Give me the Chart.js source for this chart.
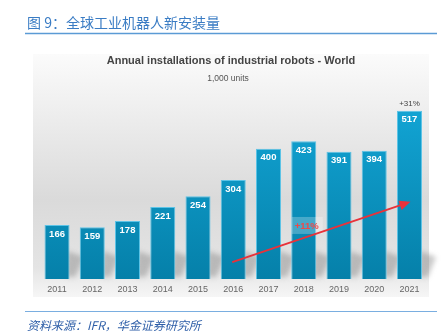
<!DOCTYPE html>
<html>
<head>
<meta charset="utf-8">
<script src="https://cdn.jsdelivr.net/npm/chart.js@4"></script>
<style>
  html, body { margin: 0; padding: 0; background: #fff; }
  #wrap { width: 441px; height: 336px; position: relative; }
</style>
</head>
<body>
<div id="wrap"><canvas id="robotChart" width="441" height="336"></canvas></div>
<script>
// 全球工业机器人年度新安装量（千台）
const years = ['2011', '2012', '2013', '2014', '2015', '2016', '2017', '2018', '2019', '2020', '2021'];
const installs = [166, 159, 178, 221, 254, 304, 400, 423, 391, 394, 517];

// 趋势箭头及增速标注
const trendFrom = ['2016', 52];
const trendTo = ['2021', 237];
const cagrLabel = ['2018', 163, '+11%'];
const lastGrowth = '+31%';

const figTitle = '图 9：全球工业机器人新安装量';
const chartTitle = 'Annual installations of industrial robots - World';
const unitText = '1,000 units';
const sourceText = '资料来源：IFR，华金证券研究所';

const cjk = '"Noto Sans CJK SC", "Noto Sans", sans-serif';
const latin = 'Arial, "Liberation Sans", sans-serif';

const decorPlugin = {
    id: 'decor',
    beforeDraw(chart) {
        const c = chart.ctx;
        c.save();
        // 页眉
        c.fillStyle = '#3a7cc4';
        c.font = '14px ' + cjk;
        c.textBaseline = 'alphabetic';
        c.fillText(figTitle, 27, 27.5);
        c.strokeStyle = '#5b9bd5';
        c.lineWidth = 1.5;
        c.beginPath(); c.moveTo(25, 33.5); c.lineTo(437, 33.5); c.stroke();

        // 图表底板
        const g = c.createLinearGradient(0, 54, 0, 297);
        g.addColorStop(0, '#fbfbfb');
        g.addColorStop(0.2, '#f0f0f0');
        g.addColorStop(0.6, '#dadada');
        g.addColorStop(0.88, '#e4e4e4');
        g.addColorStop(1, '#f6f6f6');
        c.fillStyle = g;
        c.fillRect(33, 54, 396, 243);

        c.fillStyle = '#444';
        c.font = 'bold 11px ' + latin;
        c.textAlign = 'center';
        c.fillText(chartTitle, 231, 64);
        c.fillStyle = '#555';
        c.font = '8.5px ' + latin;
        c.fillText(unitText, 228, 81);

        // 页脚
        c.textAlign = 'left';
        c.strokeStyle = '#7aaee0';
        c.lineWidth = 1;
        c.beginPath(); c.moveTo(25, 311.5); c.lineTo(437, 311.5); c.stroke();
        c.fillStyle = '#2f5fa8';
        c.font = 'italic 12px ' + cjk;
        c.fillText(sourceText, 27, 329.5);
        c.restore();
    },
    beforeDatasetsDraw(chart) {
        // 柱体投影
        const c = chart.ctx;
        const y0 = chart.scales.y.getPixelForValue(0);
        c.save();
        c.filter = 'blur(2.5px)';
        c.fillStyle = 'rgba(120,120,120,0.4)';
        chart.getDatasetMeta(0).data.forEach(bar => {
            const r = bar.x + bar.width / 2;
            c.beginPath();
            c.moveTo(r - 4, y0 - 2);
            c.lineTo(r + 6, y0 - 2);
            c.lineTo(r + 14, y0 - 22);
            c.lineTo(r - 2, y0 - 28);
            c.closePath();
            c.fill();
        });
        c.restore();
    },
    afterDatasetsDraw(chart) {
        const c = chart.ctx;
        const xs = chart.scales.x, ys = chart.scales.y;
        const bars = chart.getDatasetMeta(0).data;
        c.save();
        c.textAlign = 'center';
        c.textBaseline = 'middle';
        c.fillStyle = '#fff';
        c.font = 'bold 9.5px ' + latin;
        bars.forEach((bar, i) => {
            c.fillText(installs[i], bar.x, bar.y + 9);
        });
        const last = bars[bars.length - 1];
        c.fillStyle = '#444';
        c.font = '8px ' + latin;
        c.fillText(lastGrowth, last.x, last.y - 7);

        // 增速标注
        const lx = xs.getPixelForValue(years.indexOf(cagrLabel[0])) + 3;
        const ly = ys.getPixelForValue(cagrLabel[1]);
        c.fillStyle = 'rgba(255,255,255,0.25)';
        c.fillRect(lx - 15, ly - 9, 31, 17);
        c.fillStyle = '#f04848';
        c.font = 'bold 9.5px ' + latin;
        c.fillText(cagrLabel[2], lx, ly);

        // 趋势箭头
        const x1 = xs.getPixelForValue(years.indexOf(trendFrom[0])) - 1;
        const y1 = ys.getPixelForValue(trendFrom[1]);
        const x2 = xs.getPixelForValue(years.indexOf(trendTo[0])) + 1;
        const y2 = ys.getPixelForValue(trendTo[1]);
        const a = Math.atan2(y2 - y1, x2 - x1);
        c.strokeStyle = '#e8323a';
        c.fillStyle = '#e8323a';
        c.lineWidth = 2;
        c.beginPath();
        c.moveTo(x1, y1);
        c.lineTo(x2 - 8 * Math.cos(a), y2 - 8 * Math.sin(a));
        c.stroke();
        c.beginPath();
        c.moveTo(x2, y2);
        c.lineTo(x2 - 11 * Math.cos(a) + 5 * Math.sin(a), y2 - 11 * Math.sin(a) - 5 * Math.cos(a));
        c.lineTo(x2 - 11 * Math.cos(a) - 5 * Math.sin(a), y2 - 11 * Math.sin(a) + 5 * Math.cos(a));
        c.closePath();
        c.fill();
        c.restore();
    }
};

const ctx = document.getElementById('robotChart').getContext('2d');
const robotChart = new Chart(ctx, {
    type: 'bar',
    data: {
        labels: years,
        datasets: [{
            label: 'installations',
            data: installs,
            backgroundColor: (context) => {
                const area = context.chart.chartArea;
                if (!area) return '#0896c4';
                const g = context.chart.ctx.createLinearGradient(0, area.top, 0, area.bottom);
                g.addColorStop(0, '#14a9da');
                g.addColorStop(1, '#0580a9');
                return g;
            },
            borderColor: '#5cc3e6',
            borderWidth: 1,
            barPercentage: 0.71,
            categoryPercentage: 1
        }]
    },
    options: {
        responsive: false,
        animation: false,
        layout: {
            padding: { left: 39.4, right: 13.9, top: 83.7, bottom: 37 }
        },
        scales: {
            x: {
                grid: { display: false, drawTicks: false },
                border: { display: false },
                ticks: {
                    color: '#666',
                    font: { size: 9, family: latin },
                    padding: 5
                },
                afterFit: (axis) => { axis.height = 20; }
            },
            y: {
                display: false,
                min: 0,
                max: 600
            }
        },
        plugins: {
            legend: { display: false },
            tooltip: { enabled: false }
        }
    },
    plugins: [decorPlugin]
});
</script>
</body>
</html>
